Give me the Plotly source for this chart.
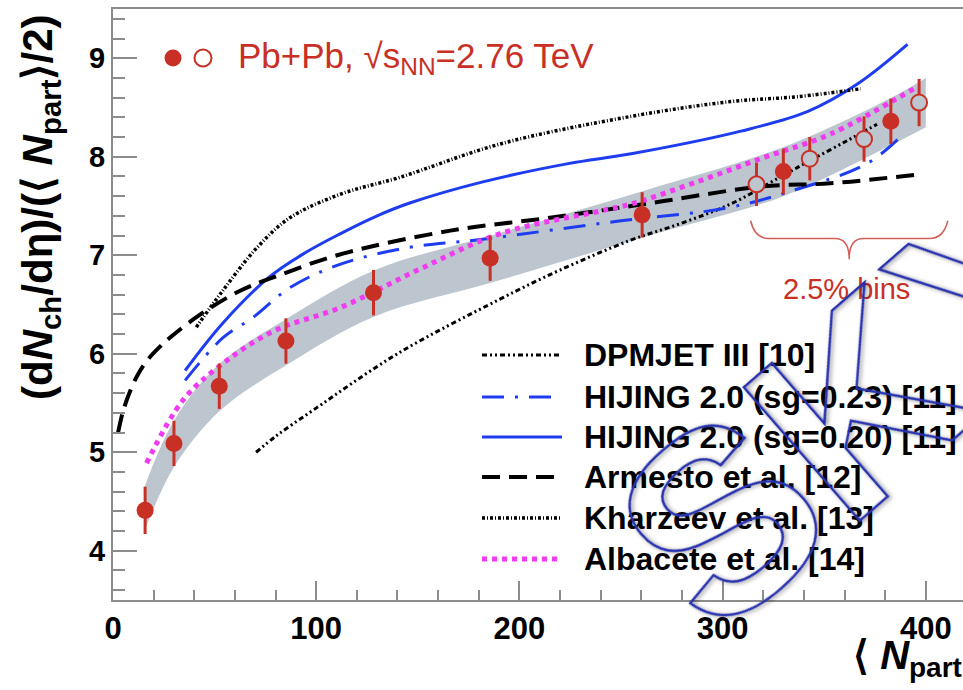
import plotly.graph_objects as go

# ---- measured points (Pb+Pb, 2.76 TeV) ----
npart = [15.8, 30.0, 52.3, 85.1, 128.2, 185.6, 260.4, 329.9, 382.8]
dndeta = [4.41, 5.09, 5.67, 6.13, 6.62, 6.97, 7.41, 7.85, 8.36]
dndeta_err = [0.24, 0.23, 0.23, 0.23, 0.23, 0.23, 0.23, 0.23, 0.23]

# 2.5% centrality bins
npart_fine = [316.7, 342.9, 369.6, 396.7]
dndeta_fine = [7.72, 7.98, 8.18, 8.55]
dndeta_fine_err = [0.22, 0.22, 0.23, 0.24]

# correlated systematic band
band_x = [15.5, 30.0, 52.5, 85.0, 129.0, 186.0, 260.5, 330.0, 383.0, 400.0]
band_hi = [4.65, 5.32, 5.90, 6.35, 6.85, 7.20, 7.65, 8.10, 8.60, 8.80]
band_lo = [4.20, 4.85, 5.42, 5.88, 6.38, 6.72, 7.18, 7.60, 8.12, 8.30]

# ---- model curves ----
dpmjet_x = [70.4, 80.6, 98.7, 140.0, 190.0, 220.0, 254.4, 279.0, 304.0, 328.0, 343.0, 361.0, 376.0]
dpmjet_y = [5.00, 5.17, 5.43, 6.00, 6.55, 6.85, 7.15, 7.32, 7.52, 7.79, 7.96, 8.16, 8.33]

hij23_x = [35.5, 54.0, 69.0, 87.0, 112.0, 146.0, 181.0, 250.0, 302.0, 333.5, 371.0, 389.0]
hij23_y = [5.73, 6.16, 6.37, 6.67, 6.91, 7.08, 7.16, 7.35, 7.48, 7.65, 7.93, 8.23]

hij20_x = [35.5, 54.0, 77.0, 95.0, 112.0, 130.0, 146.0, 181.0, 224.0, 255.0, 309.0, 342.0, 366.5, 391.0]
hij20_y = [5.83, 6.31, 6.78, 7.03, 7.22, 7.40, 7.53, 7.74, 7.93, 8.03, 8.26, 8.46, 8.74, 9.14]

armesto_x = [2.5, 5.0, 8.4, 12.0, 16.7, 23.0, 29.6, 43.0, 62.6, 80.8, 112.0, 166.0, 215.0, 255.0, 271.0, 320.0, 353.0, 396.0]
armesto_y = [5.20, 5.42, 5.62, 5.78, 5.93, 6.07, 6.19, 6.40, 6.64, 6.79, 7.01, 7.25, 7.38, 7.50, 7.55, 7.70, 7.73, 7.82]

kharzeev_x = [41.0, 54.0, 71.0, 87.0, 112.0, 141.0, 190.6, 255.0, 304.0, 337.0, 368.0]
kharzeev_y = [6.27, 6.64, 7.08, 7.38, 7.62, 7.79, 8.13, 8.41, 8.56, 8.61, 8.69]

albacete_x = [16.5, 34.5, 54.0, 79.0, 112.0, 150.0, 190.6, 240.0, 255.0, 288.0, 320.0, 353.0, 394.0]
albacete_y = [4.89, 5.53, 5.90, 6.23, 6.47, 6.85, 7.22, 7.45, 7.52, 7.75, 7.99, 8.23, 8.69]

model_names = ["DPMJET III [10]", "HIJING 2.0 (sg=0.23) [11]", "HIJING 2.0 (sg=0.20) [11]",
               "Armesto et al. [12]", "Kharzeev et al. [13]", "Albacete et al. [14]"]

RED = "rgb(200,48,38)"
BAND = "rgb(189,198,207)"
AXIS = "rgb(140,140,140)"
BLUE = "rgb(30,60,240)"
MAGENTA = "rgb(240,60,240)"
STAMP = "rgb(40,50,175)"
FONT = "Arial, Liberation Sans, sans-serif"

styles = [
    dict(color="black", width=3, dash="5px,3px,2px,3px,2px,3px"),
    dict(color=BLUE, width=3, dash="22px,11px,3px,11px"),
    dict(color=BLUE, width=3, dash="solid"),
    dict(color="black", width=4, dash="18px,9px"),
    dict(color="black", width=3.5, dash="3px,2px,1px,2px"),
    dict(color=MAGENTA, width=5, dash="5px,5px"),
]
model_x = [dpmjet_x, hij23_x, hij20_x, armesto_x, kharzeev_x, albacete_x]
model_y = [dpmjet_y, hij23_y, hij20_y, armesto_y, kharzeev_y, albacete_y]

# page geometry (pixels)
W, H = 963, 690
L, R, T, B = 113, 0, 9, 90
PW, PH = W - L - R, H - T - B


def xp(px):
    return (px - L) / PW


def yp(py):
    return (H - B - py) / PH


fig = go.Figure()

# systematic band
fig.add_trace(go.Scatter(x=band_x, y=band_lo, mode="lines", line=dict(width=0, shape="spline"),
                         showlegend=False, hoverinfo="skip"))
fig.add_trace(go.Scatter(x=band_x, y=band_hi, mode="lines", line=dict(width=0, shape="spline"),
                         fill="tonexty", fillcolor=BAND, showlegend=False, hoverinfo="skip"))

# models
for name, mx, my, st in zip(model_names, model_x, model_y, styles):
    fig.add_trace(go.Scatter(x=mx, y=my, mode="lines", name=name,
                             line=dict(color=st["color"], width=st["width"], dash=st["dash"], shape="spline"),
                             showlegend=False))

# data
fig.add_trace(go.Scatter(x=npart, y=dndeta, mode="markers",
                         marker=dict(symbol="circle", size=17, color=RED, line=dict(width=0)),
                         error_y=dict(type="data", array=dndeta_err, color=RED, thickness=3, width=0),
                         showlegend=False))
fig.add_trace(go.Scatter(x=npart_fine, y=dndeta_fine, mode="markers",
                         marker=dict(symbol="circle", size=16, color=BAND, line=dict(width=2, color=RED)),
                         error_y=dict(type="data", array=dndeta_fine_err, color=RED, thickness=3, width=0),
                         showlegend=False))

shapes = []
annotations = []

# hand-drawn legend
row_y = [355, 397, 437, 477, 518, 559]
for name, st, ry in zip(model_names, styles, row_y):
    shapes.append(dict(type="line", xref="paper", yref="paper", x0=xp(482), x1=xp(562), y0=yp(ry), y1=yp(ry),
                       line=dict(color=st["color"], width=st["width"], dash=st["dash"])))
    annotations.append(dict(text=name, xref="paper", yref="paper", x=xp(582), y=yp(ry),
                            xanchor="left", yanchor="middle", showarrow=False,
                            font=dict(family=FONT, size=32, color="black", weight="bold")))

# header with marker keys
for cx, filled in [(173, True), (203, False)]:
    shapes.append(dict(type="circle", xref="paper", yref="paper", xsizemode="pixel", ysizemode="pixel",
                       xanchor=xp(cx), yanchor=yp(58), x0=-8.5, x1=8.5, y0=-8.5, y1=8.5,
                       fillcolor=RED if filled else "rgba(0,0,0,0)",
                       line=dict(color=RED, width=0 if filled else 2)))
annotations.append(dict(text="Pb+Pb, √s<sub>NN</sub>=2.76 TeV", xref="paper", yref="paper",
                        x=xp(236), y=yp(58), xanchor="left", yanchor="middle", showarrow=False,
                        font=dict(family=FONT, size=35, color=RED)))

# brace over the 2.5% bins
bx0, bx1, bxm = 313.8, 410.8, 362.3
by0, by1, bym = 7.35, 7.17, 6.96
brace = (f"M {bx0},{by0} Q {bx0 + 2},{by1} {bx0 + 9},{by1} L {bxm - 7},{by1} "
         f"Q {bxm},{by1} {bxm},{bym} Q {bxm},{by1} {bxm + 7},{by1} L {bx1 - 9},{by1} "
         f"Q {bx1 - 2},{by1} {bx1},{by0}")
shapes.append(dict(type="path", xref="x", yref="y", path=brace,
                   line=dict(color="rgb(210,95,85)", width=1.5)))
annotations.append(dict(text="2.5% bins", xref="x", yref="y", x=361, y=6.66, showarrow=False,
                        xanchor="center", yanchor="middle",
                        font=dict(family=FONT, size=29, color=RED)))

# axis titles
annotations.append(dict(text="(d<i>N</i><sub>ch</sub>/dη)/(⟨ <i>N</i><sub>part</sub>⟩/2)",
                        xref="paper", yref="paper", x=xp(40), y=yp(207), textangle=-90,
                        xanchor="center", yanchor="middle", showarrow=False,
                        font=dict(family=FONT, size=42, color="black", weight="bold")))
annotations.append(dict(text="⟨ <i>N</i><sub>part</sub>⟩",
                        xref="paper", yref="paper", x=xp(851), y=yp(658),
                        xanchor="left", yanchor="middle", showarrow=False,
                        font=dict(family=FONT, size=40, color="black", weight="bold")))

# outlined stamp letters running up across the lower right
stamp_letters = ["S", "K", "Y"]
for letter, cx, cy in zip(stamp_letters, [720, 858, 997], [519, 403, 282]):
    annotations.append(dict(text=letter, xref="paper", yref="paper", x=xp(cx), y=yp(cy), textangle=-41,
                            xanchor="center", yanchor="middle", showarrow=False,
                            font=dict(family=FONT, size=257, color=STAMP, weight="bold")))

fig.update_layout(
    width=W, height=H, margin=dict(l=L, r=R, t=T, b=B, pad=0),
    paper_bgcolor="white", plot_bgcolor="white",
    shapes=shapes, annotations=annotations, showlegend=False,
    xaxis=dict(range=[0, PW / 2.032], showgrid=False, zeroline=False,
               showline=True, linecolor=AXIS, linewidth=2, mirror=True,
               ticks="inside", ticklen=19, tickwidth=2, tickcolor=AXIS,
               tick0=0, dtick=100,
               minor=dict(dtick=20, ticks="inside", ticklen=10, tickwidth=2, tickcolor=AXIS),
               tickfont=dict(family=FONT, size=31, color="black", weight="bold")),
    yaxis=dict(range=[3.5, 9.5], showgrid=False, zeroline=False,
               showline=True, linecolor=AXIS, linewidth=2, mirror=False,
               ticks="inside", ticklen=24, tickwidth=2, tickcolor=AXIS,
               tick0=0, dtick=1,
               minor=dict(dtick=0.2, ticks="inside", ticklen=12, tickwidth=2, tickcolor=AXIS),
               tickfont=dict(family=FONT, size=29, color="black", weight="bold")),
)

# draw the stamp letters as hollow outlines with a soft shadow
outline_js = """
var stampLetters = %s;
document.querySelectorAll('.annotation-text').forEach(function (t) {
    if (stampLetters.indexOf(t.textContent) >= 0) {
        t.style.setProperty('fill', 'none', 'important');
        t.style.setProperty('stroke', '%s', 'important');
        t.style.setProperty('stroke-width', '2.5px', 'important');
        t.style.setProperty('filter', 'drop-shadow(1px 2px 2px rgba(0,0,0,0.45))');
    }
});
""" % (str(stamp_letters).replace("'", '"'), STAMP)

fig.write_html("out.html", post_script=outline_js)
